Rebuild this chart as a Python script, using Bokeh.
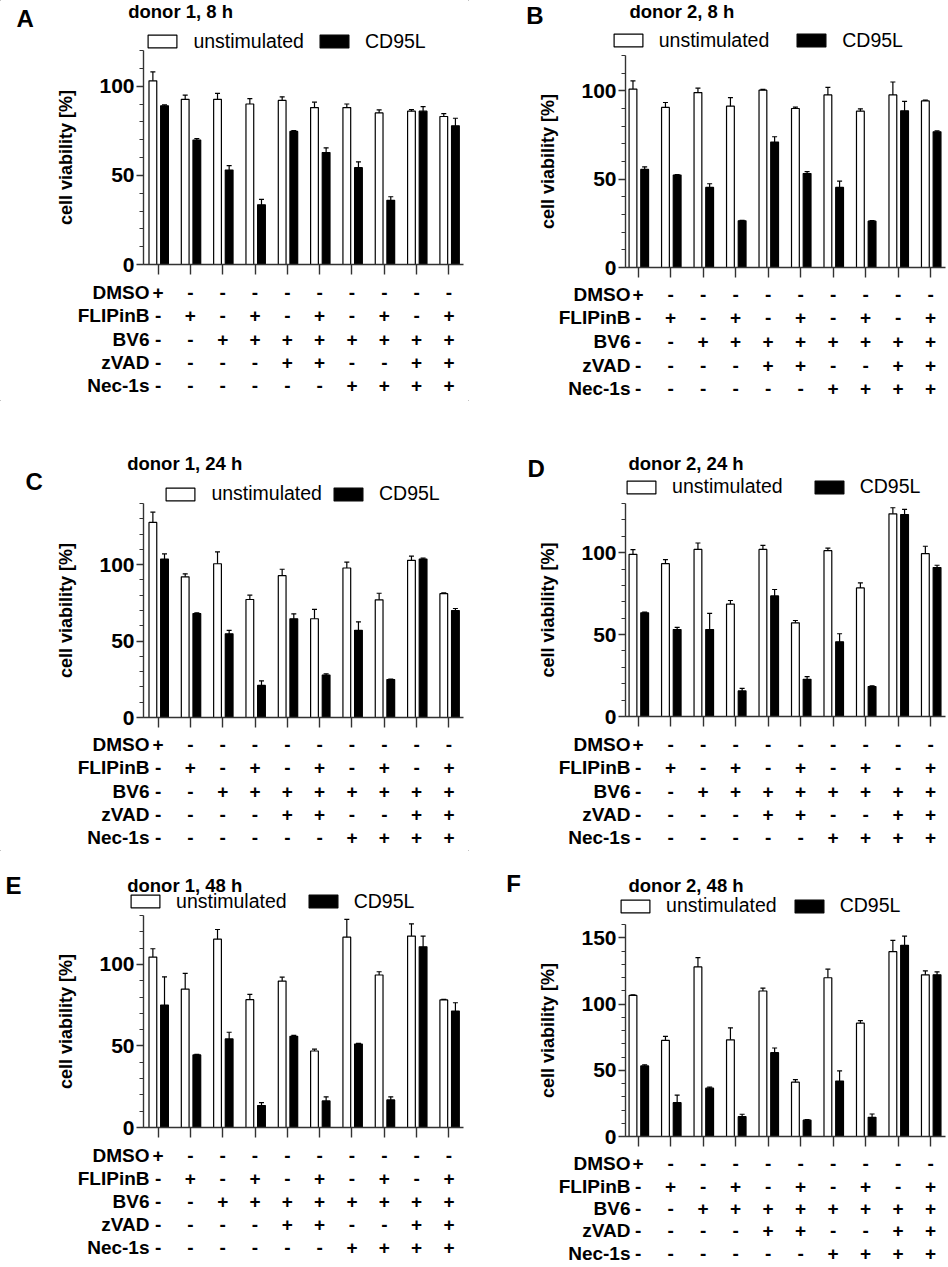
import numpy as np
from bokeh.plotting import figure
from bokeh.models import (Range1d, FactorRange, SingleIntervalTicker, FixedTicker, Legend,
                          LegendItem, Whisker, TeeHead, ColumnDataSource, Label)
from bokeh.layouts import column, row
from bokeh.embed import file_html
from bokeh.resources import INLINE
from bokeh.core.properties import value

FONT = "Liberation Sans"

# ---------------- data ----------------
conditions = ["DMSO", "FLIPinB", "BV6", "zVAD", "Nec-1s"]
DMSO    = ["+", "-", "-", "-", "-", "-", "-", "-", "-", "-"]
FLIPinB = ["-", "+", "-", "+", "-", "+", "-", "+", "-", "+"]
BV6     = ["-", "-", "+", "+", "+", "+", "+", "+", "+", "+"]
zVAD    = ["-", "-", "-", "-", "+", "+", "-", "-", "+", "+"]
Nec1s   = ["-", "-", "-", "-", "-", "-", "+", "+", "+", "+"]
series_labels = ["unstimulated", "CD95L"]
y_axis_label = "cell viability [%]"

A_title = "donor 1, 8 h"
A_unstim     = [103, 92.6, 92.6, 90, 92, 88, 88, 85, 86, 83]
A_unstim_err = [5, 2.4, 3.4, 3, 2, 3, 2, 1.7, 0.8, 1.6]
A_cd95l      = [89, 69.8, 53, 33.5, 74.6, 62.8, 54.3, 36, 86, 77.8]
A_cd95l_err  = [0.5, 0.8, 2.4, 3, 0.5, 2.6, 3.3, 2, 2.5, 4.2]
A_ymax = 120

B_title = "donor 2, 8 h"
B_unstim     = [101, 90.6, 99, 91.3, 100.4, 90, 97.7, 88.5, 97.7, 94.3]
B_unstim_err = [4.6, 2.8, 2.5, 4.9, 0.4, 0.8, 4.3, 1.3, 7.3, 0.4]
B_cd95l      = [55.5, 52.3, 45.3, 26.4, 71, 53.2, 45.3, 26.2, 88.7, 76.8]
B_cd95l_err  = [1.5, 0.3, 2.1, 0.3, 3, 1.1, 3.6, 0.3, 5.3, 0.5]
B_ymax = 120

C_title = "donor 1, 24 h"
C_unstim     = [127.6, 92, 100.6, 77.2, 92.8, 64.6, 97.8, 77, 102.8, 81]
C_unstim_err = [6.7, 2, 7.7, 2.8, 4.2, 6.1, 3.9, 4.3, 2.8, 0.5]
C_cd95l      = [103.7, 68, 54.8, 21, 64.6, 27.8, 57, 24.8, 103.7, 70]
C_cd95l_err  = [3.3, 0.5, 2.2, 3, 3.2, 0.8, 5.6, 0.4, 0.5, 1.3]
C_ymax = 140

D_title = "donor 2, 24 h"
D_unstim     = [99, 93.3, 102, 68.6, 102, 57.2, 101.2, 78.5, 123.7, 99.4]
D_unstim_err = [2.8, 2.4, 3.9, 2.2, 2.5, 1.4, 1.6, 3, 3.7, 4.5]
D_cd95l      = [63.3, 53.1, 53.1, 15.6, 73.6, 22.7, 45.6, 18.3, 123.3, 90.9]
D_cd95l_err  = [0.4, 1.3, 9.8, 1.6, 3.9, 1.6, 4.9, 0.4, 3.1, 1.4]
D_ymax = 130

E_title = "donor 1, 48 h"
E_unstim     = [104.5, 84.9, 115.5, 78.4, 89.8, 46.9, 116.7, 93.5, 117.4, 78.2]
E_unstim_err = [5.1, 9.6, 5.9, 3.2, 2.4, 1.1, 10.9, 2, 7.5, 0.4]
E_cd95l      = [75.1, 44.5, 54.3, 13.5, 55.9, 16.3, 51.2, 16.9, 110.8, 71.4]
E_cd95l_err  = [17.3, 0.4, 4.1, 1.8, 0.6, 2.5, 0.4, 1.9, 6.6, 5.1]
E_ymax = 130

F_title = "donor 2, 48 h"
F_unstim     = [106.5, 72.5, 128, 73, 109.8, 41, 119.8, 85.5, 139.5, 122]
F_unstim_err = [0.5, 3, 7, 9, 2.2, 2, 6.5, 2, 8.5, 3]
F_cd95l      = [53.3, 25.5, 36.5, 15, 63.3, 12.3, 41.8, 14.5, 144.3, 122]
F_cd95l_err  = [0.8, 5.8, 0.8, 1.8, 3.5, 0.4, 7.7, 2.5, 7, 2.3]
F_ymax = 160

# ---------------- layout / style ----------------
AX = "#333333"
BAR_W = 0.24
OFF_U = -0.16
OFF_C = 0.20
GW, GH = 36, 16
LEG_H = 20

LEFT = dict(W=468, fig_left=0, frame_left=143, frame_w=320, xs=-0.45, xe=9.45, tbl_left=150)
RIGHT = dict(W=480, fig_left=468, frame_left=625, frame_w=320, xs=-0.39, xe=9.46, tbl_left=631)


def make_panel(letter, title, unstim, unstim_err, cd95l, cd95l_err, ymax, col, g):
    W = col["W"]; fl = col["frame_left"]; fw = col["frame_w"]
    xs, xe = col["xs"], col["xe"]
    x0 = col["fig_left"]
    mbl = fl - x0
    mbr = W - mbl - fw

    # ---- header: panel letter, title, legend ----
    top = g["top"]; hh = g["hdr_h"]
    h = figure(width=W, height=hh, x_range=Range1d(x0, x0 + W), y_range=Range1d(top + hh, top),
               x_axis_location=None, y_axis_location=None, min_border=0, frame_align=False,
               output_backend="svg", toolbar_location=None)
    h.outline_line_color = None
    h.xgrid.visible = False
    h.ygrid.visible = False
    # legend proxies, placed off-canvas (the legend swatches are drawn from their styles)
    px_off = [x0 - W]
    d1 = h.vbar(x=px_off, top=[top], bottom=[top], width=1, fill_color="white",
                line_color="black", line_width=1.2)
    d2 = h.vbar(x=px_off, top=[top], bottom=[top], width=1, fill_color="black",
                line_color="black", line_width=1.2)
    h.add_layout(Label(x=g["title_x"], y=g["title_y"], text=title,
                       text_font=FONT, text_font_style="bold", text_font_size="18.5px",
                       text_baseline="middle", text_align="left", text_color="black"))
    h.add_layout(Label(x=g["letter_x"], y=g["letter_y"], text=letter,
                       text_font=FONT, text_font_style="bold", text_font_size="24px",
                       text_baseline="middle", text_align="left", text_color="black"))
    leg_x = g["leg_left"] - GW * 0.1 - x0
    leg_y = (top + hh) - (g["leg_cy"] + LEG_H / 2)
    sp = int(round(g["leg_left2"] - g["leg_left"] - (GW + 13 + 110.5)))
    leg = Legend(items=[LegendItem(label=series_labels[0], renderers=[d1]),
                        LegendItem(label=series_labels[1], renderers=[d2])],
                 orientation="horizontal", location=(leg_x, leg_y),
                 glyph_width=GW, glyph_height=GH, label_standoff=13,
                 spacing=sp, padding=0, margin=0,
                 border_line_color=None, background_fill_alpha=0,
                 label_text_font=FONT, label_text_font_size="19.5px",
                 label_text_color="black")
    h.add_layout(leg)

    # ---- bar chart ----
    ch = g["bt"] + g["fh"] + g["bb"]
    p = figure(width=W, height=ch, x_range=Range1d(xs, xe), y_range=Range1d(0, ymax),
               output_backend="svg", toolbar_location=None, frame_align=False,
               min_border_left=mbl, min_border_right=mbr,
               min_border_top=g["bt"], min_border_bottom=g["bb"])
    p.outline_line_color = None
    p.xgrid.visible = False
    p.ygrid.visible = False

    idx = np.arange(len(unstim))
    u = np.array(unstim, float); ue = np.array(unstim_err, float)
    c = np.array(cd95l, float); ce = np.array(cd95l_err, float)
    su = ColumnDataSource(dict(x=idx + OFF_U, top=u, upper=u + ue, lower=u - ue))
    sc = ColumnDataSource(dict(x=idx + OFF_C, top=c, upper=c + ce, lower=c - ce))
    p.vbar(x="x", top="top", bottom=0, width=BAR_W, source=su,
           fill_color="white", line_color="black", line_width=1.2)
    p.vbar(x="x", top="top", bottom=0, width=BAR_W, source=sc,
           fill_color="black", line_color="black", line_width=1.2)
    for s in (su, sc):
        p.add_layout(Whisker(source=s, base="x", upper="upper", lower="lower",
                             line_color="black", line_width=1.2,
                             upper_head=TeeHead(size=5, line_color="black", line_width=1.2),
                             lower_head=TeeHead(size=5, line_color="black", line_width=1.2)))

    xa = p.xaxis[0]
    xa.ticker = FixedTicker(ticks=[int(i) for i in idx])
    xa.major_label_text_color = None
    xa.major_label_text_font_size = "1px"
    xa.major_label_standoff = 0
    xa.major_tick_out = 10
    xa.major_tick_in = 0
    xa.minor_tick_line_color = None
    xa.axis_line_color = AX
    xa.axis_line_width = 1.4
    xa.major_tick_line_color = AX
    xa.major_tick_line_width = 1.4

    ya = p.yaxis[0]
    ya.ticker = SingleIntervalTicker(interval=50, num_minor_ticks=5)
    ya.major_tick_out = 7
    ya.major_tick_in = 0
    ya.minor_tick_out = 4
    ya.minor_tick_in = 0
    ya.axis_line_color = AX
    ya.axis_line_width = 1.4
    ya.major_tick_line_color = AX
    ya.major_tick_line_width = 1.4
    ya.minor_tick_line_color = AX
    ya.minor_tick_line_width = 1.2
    ya.major_label_text_font = FONT
    ya.major_label_text_font_style = "bold"
    ya.major_label_text_font_size = "21px"
    ya.major_label_text_color = "black"
    ya.major_label_standoff = 2
    ya.axis_label = y_axis_label
    ya.axis_label_text_font = FONT
    ya.axis_label_text_font_style = "bold"
    ya.axis_label_text_font_size = "18px"
    ya.axis_label_text_color = "black"
    ya.axis_label_standoff = 20

    # ---- treatment table ----
    ppx = fw / (xe - xs)
    tfl = col["tbl_left"]
    t_xs = xs + (tfl - fl) / ppx
    th = g["tbt"] + g["tfh"] + g["tbb"]
    t = figure(width=W, height=th, x_range=Range1d(t_xs, xe),
               y_range=FactorRange(factors=conditions[::-1]),
               x_axis_location=None, output_backend="svg", toolbar_location=None,
               frame_align=False,
               min_border_left=tfl - x0, min_border_right=mbr,
               min_border_top=g["tbt"], min_border_bottom=g["tbb"])
    t.outline_line_color = None
    t.xgrid.visible = False
    t.ygrid.visible = False
    ta = t.yaxis[0]
    ta.axis_line_color = None
    ta.major_tick_line_color = None
    ta.minor_tick_line_color = None
    ta.major_tick_out = 0
    ta.major_tick_in = 0
    ta.major_label_standoff = 1
    ta.major_label_text_font = FONT
    ta.major_label_text_font_style = "bold"
    ta.major_label_text_font_size = "19px"
    ta.major_label_text_color = "black"

    tx, ty, tt = [], [], []
    for name, signs in zip(conditions, [DMSO, FLIPinB, BV6, zVAD, Nec1s]):
        for i, s in enumerate(signs):
            tx.append(i); ty.append(name); tt.append(s)
    t.text(x=tx, y=ty, text=tt, text_font=value(FONT), text_font_style="bold",
           text_font_size="19px", text_align="center", text_baseline="middle",
           text_color="black")
    return column(h, p, t)


gA = dict(top=0, hdr_h=49, bt=1, fh=214, bb=14, tbt=2, tfh=117, tbb=3,
          title_x=127.7, title_y=11.2, letter_x=16, letter_y=17.5,
          leg_left=148, leg_left2=320, leg_cy=42.5)
gB = dict(top=0, hdr_h=54, bt=1, fh=212, bb=14, tbt=1, tfh=118, tbb=0,
          title_x=629, title_y=11.2, letter_x=525.7, letter_y=14.5,
          leg_left=613.3, leg_left2=797, leg_cy=41.7)
gC = dict(top=400, hdr_h=102, bt=1, fh=214, bb=14, tbt=1, tfh=117, tbb=1,
          title_x=126.7, title_y=462.7, letter_x=25, letter_y=480.7,
          leg_left=166, leg_left2=333, leg_cy=495)
gD = dict(top=400, hdr_h=102, bt=1, fh=213, bb=14, tbt=2, tfh=117, tbb=1,
          title_x=628, title_y=462.7, letter_x=527, letter_y=468.3,
          leg_left=626.7, leg_left2=814, leg_cy=488.3)
gE = dict(top=850, hdr_h=64, bt=1, fh=212, bb=14, tbt=2, tfh=116, tbb=2,
          title_x=126.7, title_y=885, letter_x=5, letter_y=885,
          leg_left=130.7, leg_left2=308, leg_cy=902.7)
gF = dict(top=850, hdr_h=73, bt=1, fh=212, bb=14, tbt=2, tfh=112, tbb=0,
          title_x=628, title_y=885, letter_x=505.7, letter_y=882.5,
          leg_left=620.7, leg_left2=794.7, leg_cy=907.3)

pA = make_panel("A", A_title, A_unstim, A_unstim_err, A_cd95l, A_cd95l_err, A_ymax, LEFT, gA)
pB = make_panel("B", B_title, B_unstim, B_unstim_err, B_cd95l, B_cd95l_err, B_ymax, RIGHT, gB)
pC = make_panel("C", C_title, C_unstim, C_unstim_err, C_cd95l, C_cd95l_err, C_ymax, LEFT, gC)
pD = make_panel("D", D_title, D_unstim, D_unstim_err, D_cd95l, D_cd95l_err, D_ymax, RIGHT, gD)
pE = make_panel("E", E_title, E_unstim, E_unstim_err, E_cd95l, E_cd95l_err, E_ymax, LEFT, gE)
pF = make_panel("F", F_title, F_unstim, F_unstim_err, F_cd95l, F_cd95l_err, F_ymax, RIGHT, gF)

layout = column(row(pA, pB), row(pC, pD), row(pE, pF))

open("out.html", "w").write(file_html(layout, INLINE))
